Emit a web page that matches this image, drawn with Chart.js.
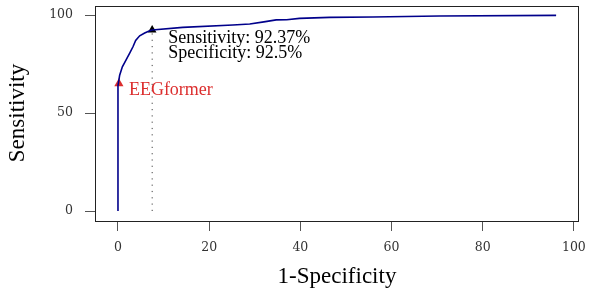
<!DOCTYPE html>
<html>
<head>
<meta charset="utf-8">
<script src="https://cdn.jsdelivr.net/npm/chart.js@4/dist/chart.umd.min.js"></script>
<style>
  html, body { margin: 0; padding: 0; background: #fff; }
  #wrap { width: 589px; height: 295px; }
</style>
</head>
<body>
<div id="wrap"><canvas id="roc"></canvas></div>
<script>
// ROC curve (values in %)
const fpr = [0, 0, 0.37, 0.96, 1.84, 2.57, 3.29, 3.88, 4.76, 5.86, 6.95, 7.5, 14.2, 25.2, 28.9, 32, 34.7, 37, 39.8, 46.4, 55.9, 70.5, 96.1];
const tpr = [0, 64, 69.3, 73.6, 77.4, 80.5, 83.8, 87, 89.4, 90.8, 92, 92.37, 93.7, 94.9, 95.4, 96.5, 97.5, 97.6, 98.3, 98.8, 99, 99.5, 99.8];

// operating point and EEGformer marker
const opPoint = { x: 7.5, y: 92.37 };
const eegPoint = { x: 0.2, y: 65 };
const opLabels = ["Sensitivity: 92.37%", "Specificity: 92.5%"];
const eegLabel = "EEGformer";

const xTicks = [0, 20, 40, 60, 80, 100];
const yTicks = [0, 50, 100];

const navy = "#00008b";
const red = "#dc2e2e";
const serif = "'Liberation Serif', 'Times New Roman', serif";

const curve = fpr.map((v, i) => ({ x: v, y: tpr[i] }));

// draws the box, axis titles and point labels
const extras = {
  id: "extras",
  afterDraw(chart) {
    const { ctx, chartArea: a, scales } = chart;
    ctx.save();
    ctx.strokeStyle = "#222";
    ctx.lineWidth = 1;
    ctx.strokeRect(a.left + 0.5, a.top + 0.5, a.right - a.left, a.bottom - a.top);

    ctx.fillStyle = "#000";
    ctx.font = "23px " + serif;
    ctx.textAlign = "center";
    ctx.textBaseline = "alphabetic";
    ctx.fillText("1-Specificity", 337, 283);
    ctx.translate(24, 113);
    ctx.rotate(-Math.PI / 2);
    ctx.fillText("Sensitivity", 0, 0);
    ctx.restore();

    ctx.save();
    const px = scales.x.getPixelForValue(opPoint.x);
    const py = scales.y.getPixelForValue(opPoint.y);
    ctx.font = "18px " + serif;
    ctx.textAlign = "left";
    ctx.textBaseline = "alphabetic";
    ctx.fillStyle = "#000";
    ctx.fillText(opLabels[0], px + 16, py + 13.5);
    ctx.fillText(opLabels[1], px + 16, py + 28.5);

    const ex = scales.x.getPixelForValue(eegPoint.x);
    const ey = scales.y.getPixelForValue(eegPoint.y);
    ctx.fillStyle = red;
    ctx.fillText(eegLabel, ex + 10, ey + 11);
    ctx.restore();
  }
};

const tickFont = { family: "'DejaVu Serif', serif", size: 12.5 };

function noPad(s) {
  s.paddingTop = 0;
  s.paddingBottom = 0;
  s.paddingLeft = 0;
  s.paddingRight = 0;
}

new Chart(document.getElementById("roc"), {
  type: "scatter",
  data: {
    datasets: [
      {
        data: [{ x: opPoint.x, y: 0 }, { x: opPoint.x, y: opPoint.y }],
        showLine: true,
        borderColor: "#444",
        borderWidth: 1,
        borderDash: [1.2, 5.1],
        pointRadius: 0
      },
      {
        data: curve,
        showLine: true,
        borderColor: navy,
        borderWidth: 1.6,
        pointRadius: 0,
        tension: 0
      },
      {
        data: [opPoint],
        pointStyle: "triangle",
        pointRadius: 5,
        backgroundColor: "#000",
        borderColor: "#000",
        borderWidth: 0
      },
      {
        data: [eegPoint],
        pointStyle: "triangle",
        pointRadius: 5.3,
        backgroundColor: red,
        borderColor: red,
        borderWidth: 0
      }
    ]
  },
  options: {
    responsive: true,
    maintainAspectRatio: false,
    animation: false,
    layout: { padding: { top: 6, right: 11, left: 0, bottom: 0 } },
    plugins: {
      legend: { display: false },
      tooltip: { enabled: false }
    },
    scales: {
      x: {
        type: "linear",
        min: -5.04,
        max: 100.9,
        afterFit: (s) => { s.height = 74; noPad(s); },
        afterBuildTicks: (s) => { s.ticks = xTicks.map((v) => ({ value: v })); },
        border: { display: false },
        grid: { drawOnChartArea: false, drawTicks: true, tickLength: 10, color: "#555", lineWidth: 1 },
        ticks: { font: tickFont, color: "#333", padding: 9, maxRotation: 0 }
      },
      y: {
        type: "linear",
        min: -5.1,
        max: 104.6,
        afterFit: (s) => { s.width = 95; noPad(s); },
        afterBuildTicks: (s) => { s.ticks = yTicks.map((v) => ({ value: v })); },
        border: { display: false },
        grid: { drawOnChartArea: false, drawTicks: true, tickLength: 10, color: "#555", lineWidth: 1 },
        ticks: { font: tickFont, color: "#333", padding: 12 }
      }
    }
  },
  plugins: [extras]
});
</script>
</body>
</html>
